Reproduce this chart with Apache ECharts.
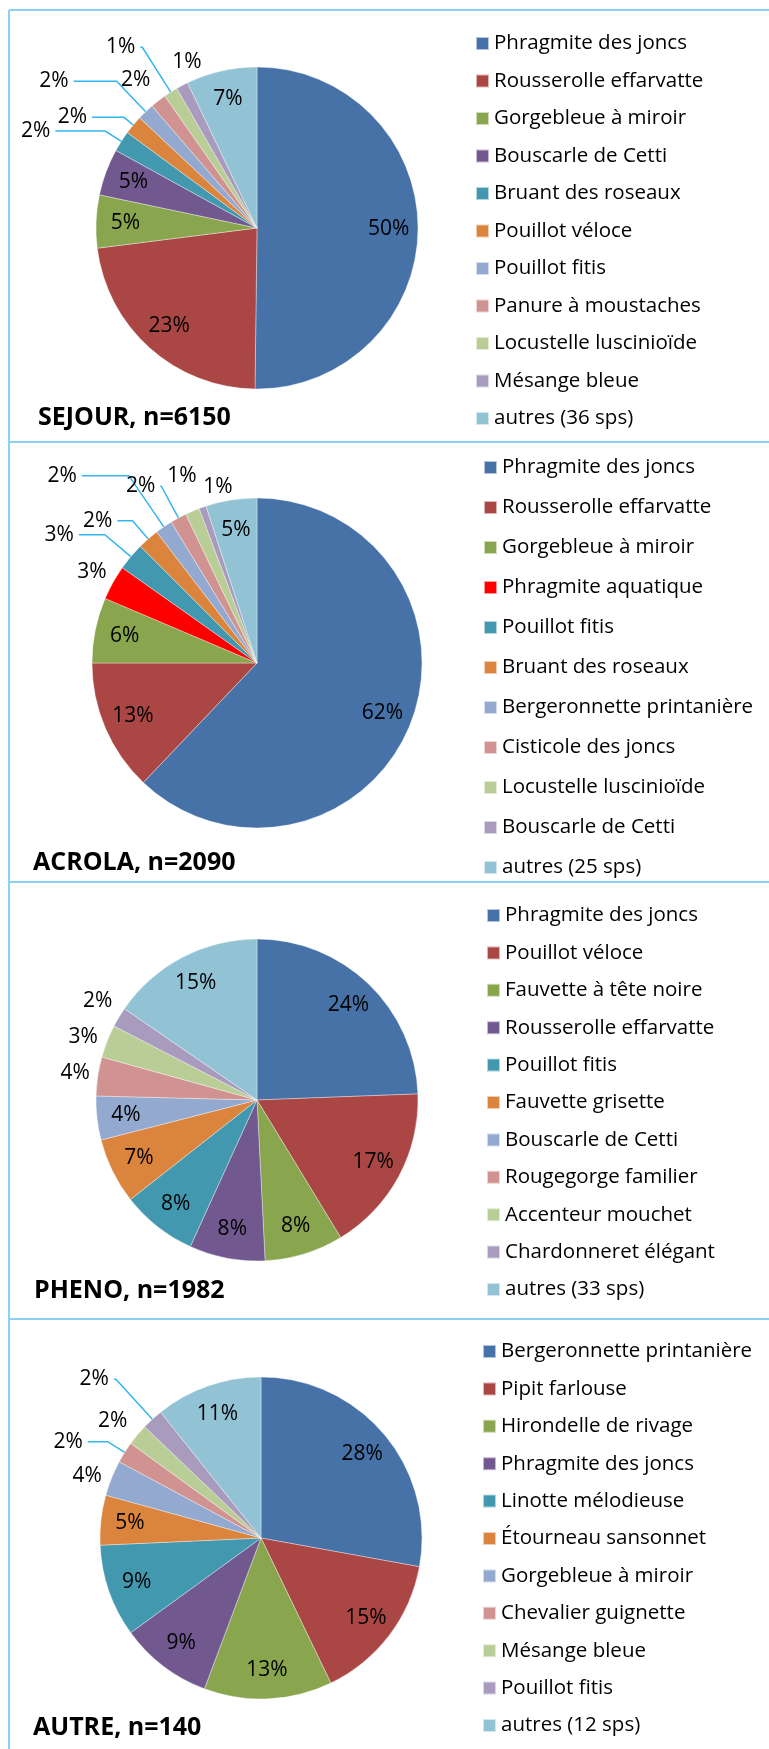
<!DOCTYPE html>
<html>
<head>
<meta charset="utf-8">
<script src="https://cdn.jsdelivr.net/npm/echarts@6/dist/echarts.min.js"></script>
<style>
html,body{margin:0;padding:0;background:#fff}
#chart{width:769px;height:1749px}
</style>
</head>
<body>
<div id="chart"></div>
<script>
// palette (legend order)
const officeColors = ["#4672a8","#aa4643","#89a54e","#71588f","#4198af","#db843d","#93a9cf","#d19392","#b9cd96","#a99bbd","#92c3d4"]
const acrolaColors = ["#4672a8","#aa4643","#89a54e","#ff0000","#4198af","#db843d","#93a9cf","#d19392","#b9cd96","#a99bbd","#92c3d4"]

// SEJOUR, n=6150  (% des captures)
const sejourNames = ["Phragmite des joncs","Rousserolle effarvatte","Gorgebleue à miroir","Bouscarle de Cetti","Bruant des roseaux","Pouillot véloce","Pouillot fitis","Panure à moustaches","Locustelle luscinioïde","Mésange bleue","autres (36 sps)"]
const sejourValues = [50.2,22.8,5.3,4.7,2.1,1.9,1.7,1.6,1.4,1.2,7.1]

// ACROLA, n=2090
const acrolaNames = ["Phragmite des joncs","Rousserolle effarvatte","Gorgebleue à miroir","Phragmite aquatique","Pouillot fitis","Bruant des roseaux","Bergeronnette printanière","Cisticole des joncs","Locustelle luscinioïde","Bouscarle de Cetti","autres (25 sps)"]
const acrolaValues = [62.1,12.9,6.4,3.4,2.7,2.1,1.7,1.6,1.4,0.7,5.0]

// PHENO, n=1982
const phenoNames = ["Phragmite des joncs","Pouillot véloce","Fauvette à tête noire","Rousserolle effarvatte","Pouillot fitis","Fauvette grisette","Bouscarle de Cetti","Rougegorge familier","Accenteur mouchet","Chardonneret élégant","autres (33 sps)"]
const phenoValues = [24.4,16.9,7.9,7.6,7.6,6.6,4.4,3.9,3.3,2.0,15.4]

// AUTRE, n=140 (nombre d'oiseaux)
const autreNames = ["Bergeronnette printanière","Pipit farlouse","Hirondelle de rivage","Phragmite des joncs","Linotte mélodieuse","Étourneau sansonnet","Gorgebleue à miroir","Chevalier guignette","Mésange bleue","Pouillot fitis","autres (12 sps)"]
const autreValues = [39,21,18,13,13,7,5,3,3,3,15]

const titles = ["SEJOUR, n=6150","ACROLA, n=2090","PHENO, n=1982","AUTRE, n=140"]

// label placement: "in" = inside the slice, else [line length, length2, show line]
const sejourLabels = ["in","in","in","in",[19,50,true],[12,32,true],[42,43,true],[26,-13,false],[53,2,true],[27,-37,false],"in"]
const acrolaLabels = ["in","in","in",[21,-17,false],[34,26,true],[24,15,true],[62,47,true],[36,1,true],[38,-24,false],[21,-42,false],"in"]
const phenoLabels = ["in","in","in","in","in","in","in",[21,-18,false],[12,-7,false],[31,-25,false],"in"]
const autreLabels = ["in","in","in","in","in","in",[5,0,false],[20,20,true],[21,-11,false],[54,2,true],"in"]

// layout of the four panels
const panelTops = [10,442,882,1319]
const pieCenters = [[257,228],[257,663],[257,1100],[261,1538]]
const pieRadius = [161,165,161,161]
const legendLeft = [475,483,486,482]
const legendTop = [33,457,905,1341]
const legendGap = [16.5,19,16.4,16.4]
const titleLeft = [38,33,34,33]
const titleTop = [405,850,1278,1715]

const font = "'Open Sans', 'Noto Sans', sans-serif"
const lineBlue = "#33b5f0"
const borderBlue = "#8dcff5"

const panels = [
    {names:sejourNames,values:sejourValues,colors:officeColors,labels:sejourLabels},
    {names:acrolaNames,values:acrolaValues,colors:acrolaColors,labels:acrolaLabels},
    {names:phenoNames,values:phenoValues,colors:officeColors,labels:phenoLabels},
    {names:autreNames,values:autreValues,colors:officeColors,labels:autreLabels},
]

const pctLabel = p => Math.round(p.percent) + "%"

const series = []
const legends = []
const titleList = []

panels.forEach((pn,k)=>{
    const r = pieRadius[k]
    // slices + outside labels
    series.push({
        type:"pie",
        center:pieCenters[k],
        radius:r,
        startAngle:90,
        clockwise:true,
        avoidLabelOverlap:false,
        animation:false,
        silent:true,
        itemStyle:{borderColor:"rgba(255,255,255,0.6)",borderWidth:0.6},
        label:{position:"outside",formatter:pctLabel,fontSize:21,color:"#000",fontFamily:font,distanceToLabelLine:5},
        labelLine:{lineStyle:{color:lineBlue,width:1.5},smooth:false},
        data:pn.names.map((n,i)=>{
            const spec = pn.labels[i]
            const item = {name:n,value:pn.values[i],itemStyle:{color:pn.colors[i]}}
            if(spec==="in"){
                item.label = {show:false}
                item.labelLine = {show:false}
            }else{
                item.label = {show:true}
                item.labelLine = {show:spec[2],length:spec[0],length2:spec[1]}
            }
            return item
        })
    })
    // transparent ring, only used to put the inside labels at ~0.8 r
    series.push({
        type:"pie",
        center:pieCenters[k],
        radius:[r*0.6,r],
        startAngle:90,
        clockwise:true,
        animation:false,
        silent:true,
        z:5,
        itemStyle:{color:"transparent"},
        label:{position:"inside",formatter:pctLabel,fontSize:21,color:"#000",fontFamily:font},
        labelLine:{show:false},
        data:pn.names.map((n,i)=>({
            name:n,
            value:pn.values[i],
            itemStyle:{color:"transparent"},
            label:{show:pn.labels[i]==="in"}
        }))
    })
    legends.push({
        orient:"vertical",
        left:legendLeft[k],
        top:legendTop[k],
        padding:0,
        itemWidth:13,
        itemHeight:13,
        itemGap:legendGap[k],
        icon:"rect",
        selectedMode:false,
        textStyle:{fontSize:20.5,lineHeight:21,color:"#000",fontFamily:font},
        data:pn.names.map((n,i)=>({name:n,itemStyle:{color:pn.colors[i]}}))
    })
    titleList.push({
        text:titles[k],
        left:titleLeft[k],
        top:titleTop[k],
        padding:0,
        textStyle:{fontSize:25,fontWeight:"bold",color:"#000",fontFamily:font}
    })
})

// panel frame
const frame = [{type:"line",shape:{x1:9,y1:10,x2:9,y2:1749},style:{stroke:borderBlue,lineWidth:2}}]
panelTops.forEach(y=>{
    frame.push({type:"line",shape:{x1:9,y1:y,x2:769,y2:y},style:{stroke:borderBlue,lineWidth:2}})
})

const myChart = echarts.init(document.getElementById("chart"))
myChart.setOption({
    backgroundColor:"#fff",
    animation:false,
    title:titleList,
    legend:legends,
    graphic:frame,
    series:series
})
</script>
</body>
</html>
